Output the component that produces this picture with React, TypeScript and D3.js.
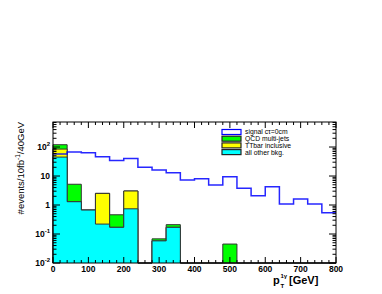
import React from 'react';
import * as d3 from 'd3';

// 40 GeV bins, 0 - 800 GeV
const binEdges = d3.range(0, 801, 40);
const signal = [57, 67, 63, 46, 34, 40, 20, 16, 13, 7.3, 8.1, 4.9, 9.5, 3.8, 2.1, 4.3, 1.08, 1.6, 1.08, 0.54];
const otherBkg = [45, 1.3, 0.67, 0.22, 0.17, 0.74, 0, 0.058, 0.17, 0, 0, 0, 0, 0, 0, 0, 0, 0, 0, 0];
const ttbar = [40, 0, 0, 2.3, 0, 2.3, 0, 0, 0, 0, 0, 0, 0, 0, 0, 0, 0, 0, 0, 0];
const qcd = [35, 3.9, 0, 0, 0.29, 0, 0, 0.01, 0.04, 0, 0, 0, 0.045, 0, 0, 0, 0, 0, 0, 0];
const xTicks = [0, 100, 200, 300, 400, 500, 600, 700, 800];
const yDecades = [-2, -1, 0, 1, 2];
const legendItems = [
  {label: 'signal c\u03c4=0cm', fill: 'white', stroke: '#0000ff'},
  {label: 'QCD multi-jets', fill: '#00ff00', stroke: '#222'},
  {label: 'TTbar inclusive', fill: '#ffff00', stroke: '#222'},
  {label: 'all other bkg.', fill: '#00ffff', stroke: '#222'},
];

const W = 382, H = 294;
const L = 53, R = 336, T = 122, B = 263;
const font = '"Liberation Sans", Arial, sans-serif';

export default function App() {
  const x = d3.scaleLinear().domain([0, 800]).range([L, R]);
  const y = d3.scaleLog().domain([0.01, 730]).range([B, T]);
  const yv = (v: number) => (v > 0.01 ? y(v) : B);

  // cumulative stack: cyan, +yellow, +green
  const c1 = otherBkg;
  const c2 = otherBkg.map((d, i) => d + ttbar[i]);
  const c3 = c2.map((d, i) => d + qcd[i]);

  const stepPath = (vals: number[], close: boolean) => {
    let p = close ? `M${x(0)},${B}` : `M${x(0)},${yv(vals[0])}`;
    vals.forEach((v, i) => {
      p += `L${x(binEdges[i])},${yv(v)}L${x(binEdges[i + 1])},${yv(v)}`;
    });
    if (close) p += `L${x(800)},${B}`;
    return p;
  };

  const layers = [
    {vals: c3, fill: '#00ff00'},
    {vals: c2, fill: '#ffff00'},
    {vals: c1, fill: '#00ffff'},
  ];

  // ticks
  const minorX = d3.range(0, 801, 20);
  const yMinor: number[] = [];
  for (let e = -2; e < 3; e++) for (let k = 1; k < 10; k++) {
    const v = k * Math.pow(10, e);
    if (v <= 730) yMinor.push(v);
  }

  return (
    <svg width={W} height={H} style={{position: 'absolute', left: 0, top: 0}}>
      <rect width={W} height={H} fill="white" />
      <rect x={L} y={T} width={R - L} height={B - T} fill="white" />

      {layers.map((l, i) => (
        <g key={i}>
          <path d={stepPath(l.vals, true)} fill={l.fill} />
          <path d={stepPath(l.vals, true)} fill="none" stroke="#333" strokeWidth={1} />
        </g>
      ))}

      <path d={stepPath(signal, false)} fill="none" stroke="#0000ff" strokeWidth={1.5} strokeOpacity={0.85} />

      {/* frame */}
      <rect x={L} y={T} width={R - L} height={B - T} fill="none" stroke="black" strokeWidth={1} />

      {/* x ticks, bottom and top */}
      {minorX.map(v => {
        const len = v % 100 === 0 ? 6 : 3;
        return (
          <g key={v}>
            <line x1={x(v)} x2={x(v)} y1={B} y2={B - len} stroke="black" />
            <line x1={x(v)} x2={x(v)} y1={T} y2={T + len} stroke="black" />
          </g>
        );
      })}
      {xTicks.map(v => (
        <text key={v} x={x(v)} y={B + 9} textAnchor="middle" fontFamily={font} fontWeight="bold" fontSize={8.5}>{v}</text>
      ))}

      {/* y ticks, left and right */}
      {yMinor.map((v, i) => {
        const major = Math.abs(Math.log10(v) - Math.round(Math.log10(v))) < 1e-9;
        const len = major ? 7 : 3.5;
        return (
          <g key={i}>
            <line x1={L} x2={L + len} y1={y(v)} y2={y(v)} stroke="black" />
            <line x1={R} x2={R - len} y1={y(v)} y2={y(v)} stroke="black" />
          </g>
        );
      })}
      {yDecades.map(e => (
        <text key={e} x={L - 3} y={y(Math.pow(10, e)) + 3} textAnchor="end" fontFamily={font} fontWeight="bold" fontSize={8.5}>
          {e === 0 ? '1' : e === 1 ? '10' : (
            <>10<tspan dy={-4} fontSize={6}>{e}</tspan></>
          )}
        </text>
      ))}

      {/* axis titles */}
      <text transform={`translate(24,${T}) rotate(-90)`} textAnchor="end" fontFamily={font} fontSize={9.5}>
        #events/10fb<tspan dy={-4} fontSize={6.5}>-1</tspan><tspan dy={4}>/40GeV</tspan>
      </text>
      <g fontFamily={font} fontWeight="bold">
        <text x={273} y={284} fontSize={11}>p</text>
        <text x={280.5} y={278} fontSize={6}>1{'\u03b3'}</text>
        <text x={280.5} y={288} fontSize={6}>T</text>
        <text x={289} y={284} fontSize={11}>[GeV]</text>
      </g>

      {/* legend */}
      {legendItems.map((d, i) => {
        const ly = 132 + i * 6.7;
        return (
          <g key={i}>
            <rect x={222} y={ly - 2.5} width={19} height={5} fill={d.fill} stroke={d.stroke} strokeWidth={1.2} />
            <text x={245} y={ly + 2.4} fontFamily={font} fontSize={6.8}>{d.label}</text>
          </g>
        );
      })}
    </svg>
  );
}
